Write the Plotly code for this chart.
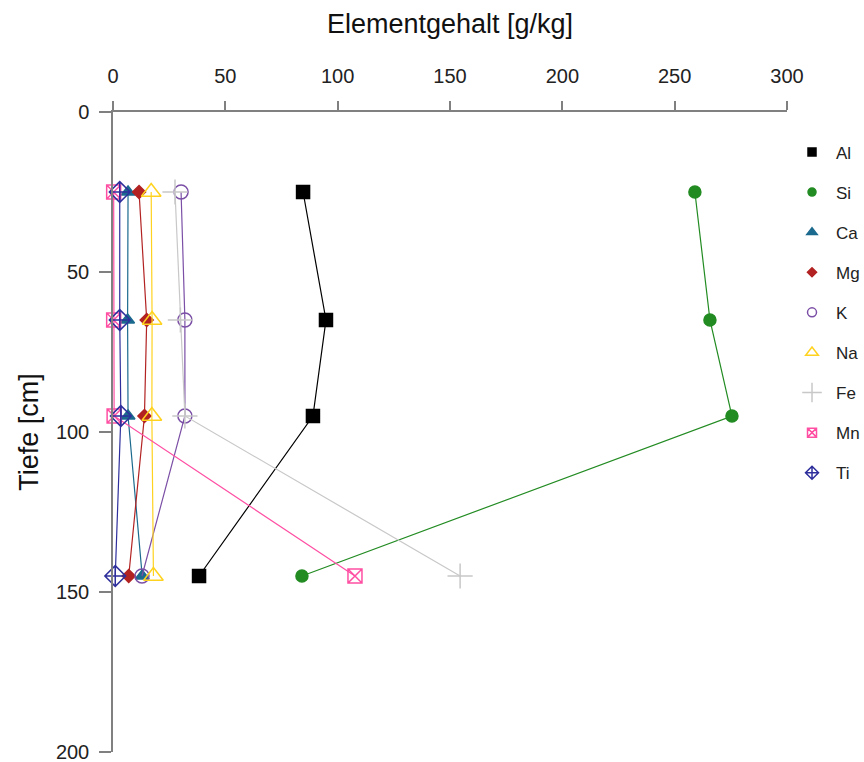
import plotly.graph_objects as go

# Sampling depths (cm) and element contents (g/kg)
depth = [25, 65, 95, 145]
elements = ["Al", "Si", "Ca", "Mg", "K", "Na", "Fe", "Mn", "Ti"]
al = [84.6, 94.8, 89.0, 38.3]
si = [259.0, 265.7, 275.5, 84.1]
ca = [6.7, 6.5, 6.7, 13.0]
mg = [11.6, 15.0, 14.0, 7.0]
k = [30.3, 32.0, 32.0, 12.9]
na = [17.0, 17.4, 17.3, 18.0]
fe = [27.6, 30.0, 32.0, 154.5]
mn = [0.3, 0.3, 0.5, 107.7]
ti = [3.0, 3.0, 3.5, 1.0]
x_ticks = [0, 50, 100, 150, 200, 250, 300]
y_ticks = [0, 50, 100, 150, 200]

series = [al, si, ca, mg, k, na, fe, mn, ti]
colors = ["#000000", "#228B22", "#1B6A8E", "#B22222", "#7B4FA6",
          "#FFD21F", "#C8C8C8", "#FF4FA3", "#2E2F9C"]
symbols = ["square", "circle", "triangle-up", "diamond", "circle-open",
           "triangle-up-open", "cross-thin-open", "square-x-open",
           "diamond-cross-open"]
sizes = [13, 12, 12, 10, 14, 17, 18, 14, 16]
legend_sizes = [8, 8, 9, 7, 9, 11, 14, 9, 10]

sans = "Liberation Sans, Arial, Helvetica, sans-serif"

fig = go.Figure()
for name, vals, c, s, sz in zip(elements, series, colors, symbols, sizes):
    fig.add_trace(go.Scatter(
        x=vals, y=depth, mode="lines+markers", name=name,
        line=dict(color=c, width=1.2),
        marker=dict(symbol=s, size=sz, color=c,
                    line=dict(color=c, width=1.5)),
        cliponaxis=False, showlegend=False,
    ))

# Legend entries with small symbols
for name, c, s, sz in zip(elements, colors, symbols, legend_sizes):
    fig.add_trace(go.Scatter(
        x=[None], y=[None], mode="markers", name=name, legendgroup=name,
        marker=dict(symbol=s, size=sz, color=c, line=dict(color=c, width=1.5)),
    ))

fig.update_layout(
    width=864, height=762,
    margin=dict(l=113, r=77, t=112, b=10, autoexpand=False),
    plot_bgcolor="white", paper_bgcolor="white",
    font=dict(family=sans, color="#222222"),
    showlegend=True,
    legend=dict(x=1.0015, xanchor="left", y=0.965, yanchor="top",
                font=dict(family=sans, size=17, color="#222222"),
                tracegroupgap=15, itemsizing="trace", itemwidth=38,
                bgcolor="rgba(0,0,0,0)"),
    xaxis=dict(
        side="top", range=[0, 300], tickvals=x_ticks, automargin=False,
        showgrid=False, zeroline=False, showline=True,
        linecolor="#808080", linewidth=1.5,
        ticks="outside", ticklen=9, tickwidth=1.5, tickcolor="#808080",
        tickfont=dict(family=sans, size=20, color="#222222"),
        ticklabelstandoff=10, ticklabeloverflow="allow",
        title=dict(text="Elementgehalt [g/kg]", standoff=24,
                   font=dict(family=sans, size=27, color="#111111")),
    ),
    yaxis=dict(
        range=[200, 0], tickvals=y_ticks, automargin=False,
        showgrid=False, zeroline=False, showline=True,
        linecolor="#808080", linewidth=1.5,
        ticks="outside", ticklen=12, tickwidth=1.5, tickcolor="#808080",
        tickfont=dict(family=sans, size=20, color="#222222"),
        ticklabelstandoff=6, ticklabeloverflow="allow",
        title=dict(text="Tiefe [cm]", standoff=9,
                   font=dict(family=sans, size=27, color="#111111")),
    ),
)

fig.write_html("out.html")
